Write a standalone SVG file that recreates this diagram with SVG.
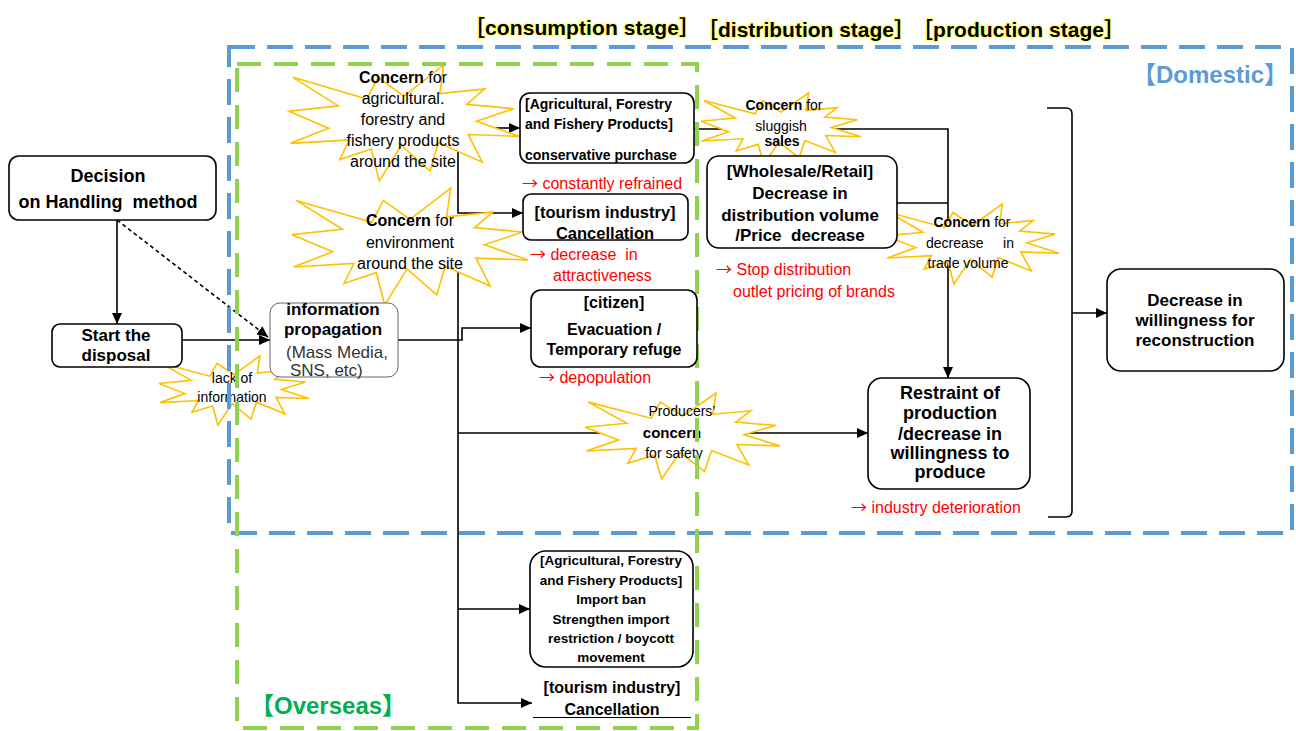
<svg xmlns="http://www.w3.org/2000/svg" xmlns:xlink="http://www.w3.org/1999/xlink" width="1296" height="731" viewBox="0 0 1296 731">
<style>
text{font-family:"Liberation Sans","Noto Sans CJK JP",sans-serif;fill:#000}
.b{font-weight:bold}
.c{text-anchor:middle}
.red{fill:#F00;font-size:16px}
.ar{font-family:"Noto Sans CJK JP",sans-serif}
.box{fill:#fff;stroke:#000;stroke-width:1.6}
.ln{fill:none;stroke:#000;stroke-width:1.6}
.hdr{font-size:21px;font-weight:bold;stroke:#FFFF80;stroke-width:3;paint-order:stroke;stroke-linejoin:round}
.pre{white-space:pre}
</style>
<defs>
<marker id="arr" markerUnits="userSpaceOnUse" markerWidth="11" markerHeight="10" refX="11" refY="5" orient="auto">
<path d="M0,0 L11,5 L0,10 Z" fill="#000"/>
</marker>
<path id="burst" d="M10800,5800 L14522,0 L14155,5325 L18380,4457 L16702,7315 L21097,8137 L17607,10475 L21600,13290 L16837,12942 L18145,18095 L14020,14457 L13247,19737 L10532,14935 L8485,21600 L7715,15627 L4762,17617 L5667,13937 L135,14587 L3722,11775 L0,8615 L4627,7617 L370,2295 L7312,6320 L8352,2295 Z" fill="#fff" stroke="#FFC000" stroke-width="1.6" vector-effect="non-scaling-stroke" stroke-linejoin="miter"/>
</defs>
<rect width="1296" height="731" fill="#fff"/>

<g id="headers">
<text class="hdr" x="464" y="35" textLength="236">［consumption stage］</text>
<text class="hdr" x="697" y="37" textLength="218">［distribution stage］</text>
<text class="hdr" x="912" y="37" textLength="213">［production stage］</text>
</g>

<g id="connectors">
<path class="ln" d="M117,220 V324" marker-end="url(#arr)"/>
<path class="ln" d="M117,220 L268,337" stroke-dasharray="4,3" marker-end="url(#arr)"/>
<path class="ln" d="M182,340 H270" marker-end="url(#arr)"/>
<path class="ln" d="M495,128 H520" marker-end="url(#arr)"/>
<path class="ln" d="M458,147 V213 H523" marker-end="url(#arr)"/>
<path class="ln" d="M398,340 H462 V328 H531" marker-end="url(#arr)"/>
<path class="ln" d="M458,267 V703 H532" stroke-width="2" marker-end="url(#arr)"/>
<path class="ln" d="M458,433 H868" marker-end="url(#arr)"/>
<path class="ln" d="M458,609 H530" marker-end="url(#arr)"/>
<path class="ln" d="M694,129 H948 V378" stroke-width="2.2" marker-end="url(#arr)"/>
<path class="ln" d="M897,203 H948"/>
<path class="ln" d="M1047,108 H1066 Q1072,108 1072,114 V511 Q1072,517 1066,517 H1048"/>
<path class="ln" d="M1072,313 H1107" marker-end="url(#arr)"/>
</g>

<g id="burst-agri">
<use xlink:href="#burst" transform="translate(289,65) scale(0.010648,0.00537)"/>
<text x="403" y="83" class="c" font-size="16"><tspan class="b">Concern</tspan> for</text>
<text x="403" y="104" class="c" font-size="16">agricultural.</text>
<text x="403" y="125" class="c" font-size="16">forestry and</text>
<text x="403" y="146" class="c" font-size="16">fishery products</text>
<text x="403" y="167" class="c" font-size="16">around the site</text>
</g>
<g id="burst-env">
<use xlink:href="#burst" transform="translate(292,188) scale(0.010926,0.005417)"/>
<text x="410" y="226" class="c" font-size="16"><tspan class="b">Concern</tspan> for</text>
<text x="410" y="248" class="c" font-size="16">environment</text>
<text x="410" y="269" class="c" font-size="16">around the site</text>
</g>
<g id="burst-lack">
<use xlink:href="#burst" transform="translate(159,356) scale(0.006944,0.003194)"/>
<text x="232" y="383" class="c" font-size="14">lack of</text>
<text x="232" y="402" class="c" font-size="14">information</text>
</g>
<g id="burst-sales">
<use xlink:href="#burst" transform="translate(701,93) scale(0.007407,0.003287)"/>
<text x="784" y="110" class="c" font-size="14"><tspan class="b">Concern</tspan> for</text>
<text x="781" y="131" class="c" font-size="14">sluggish</text>
<text x="782" y="146" class="c b" font-size="14">sales</text>
</g>
<g id="burst-trade">
<use xlink:href="#burst" transform="translate(886,204) scale(0.008009,0.003704)"/>
<text x="972" y="227" class="c" font-size="14"><tspan class="b">Concern</tspan> for</text>
<text x="970" y="248" class="c pre" font-size="14">decrease     in</text>
<text x="968" y="268" class="c" font-size="14">trade volume</text>
</g>
<g id="burst-safety">
<use xlink:href="#burst" transform="translate(585,393) scale(0.009028,0.003981)"/>
<text x="682" y="416" class="c" font-size="14">Producers’</text>
<text x="672" y="438" class="c b" font-size="15">concern</text>
<text x="674" y="458" class="c" font-size="14">for safety</text>
</g>

<g id="domestic">
<rect x="229" y="47" width="1063" height="486" fill="none" stroke="#5B9BD5" stroke-width="4" stroke-dasharray="26,12"/>
<text x="1288" y="83" text-anchor="end" class="b" font-size="24" style="fill:#5B9BD5">【Domestic】</text>
</g>
<g id="overseas">
<rect x="237" y="64" width="460" height="664" fill="none" stroke="#92D050" stroke-width="4" stroke-dasharray="24,13"/>
<text x="250" y="714" class="b" font-size="24" style="fill:#00B050">【Overseas】</text>
</g>

<g id="decision">
<rect class="box" x="9" y="156" width="207" height="64" rx="10"/>
<text x="108" y="182" class="c b" font-size="18">Decision</text>
<text x="108" y="208" class="c b pre" font-size="18">on Handling  method</text>
</g>
<g id="start">
<rect class="box" x="52" y="324" width="130" height="43" rx="8"/>
<text x="116" y="341" class="c b" font-size="17">Start the</text>
<text x="116" y="361" class="c b" font-size="17">disposal</text>
</g>
<g id="info">
<rect x="270" y="303" width="128" height="74" rx="10" fill="#fff" stroke="#666" stroke-width="1"/>
<text x="333" y="315" class="c b" font-size="17">information</text>
<text x="333" y="335" class="c b" font-size="17">propagation</text>
<text x="286" y="358" font-size="17" style="fill:#333">(Mass Media,</text>
<text x="290" y="376" font-size="17" style="fill:#333">SNS, etc)</text>
</g>
<g id="agri-purchase">
<rect class="box" x="520" y="93" width="174" height="70" rx="10"/>
<text x="525" y="109" class="b" font-size="14">[Agricultural, Forestry</text>
<text x="525" y="129" class="b" font-size="14">and Fishery Products]</text>
<text x="525" y="160" class="b" font-size="14">conservative purchase</text>
<text x="522" y="189" class="red"><tspan class="ar">→</tspan> constantly refrained</text>
</g>
<g id="tourism-domestic">
<rect class="box" x="523" y="194" width="165" height="46" rx="8"/>
<text x="605" y="218" class="c b" font-size="16.5">[tourism industry]</text>
<text x="605" y="239" class="c b" font-size="16.5">Cancellation</text>
<text x="530" y="260" class="red pre"><tspan class="ar">→</tspan> decrease  in</text>
<text x="553" y="281" class="red">attractiveness</text>
</g>
<g id="citizen">
<rect class="box" x="531" y="290" width="166" height="77" rx="10"/>
<text x="614" y="308" class="c b" font-size="16">[citizen]</text>
<text x="614" y="335" class="c b" font-size="16">Evacuation /</text>
<text x="614" y="355" class="c b" font-size="16">Temporary refuge</text>
<text x="539" y="383" class="red"><tspan class="ar">→</tspan> depopulation</text>
</g>
<g id="wholesale">
<rect class="box" x="707" y="156" width="190" height="92" rx="12"/>
<text x="800" y="177" class="c b" font-size="17">[Wholesale/Retail]</text>
<text x="800" y="199" class="c b" font-size="17">Decrease in</text>
<text x="800" y="221" class="c b" font-size="17">distribution volume</text>
<text x="800" y="241" class="c b pre" font-size="17">/Price  decrease</text>
<text x="716" y="275" class="red"><tspan class="ar">→</tspan> Stop distribution</text>
<text x="733" y="297" class="red">outlet pricing of brands</text>
</g>
<g id="restraint">
<rect class="box" x="868" y="378" width="162" height="111" rx="14"/>
<text x="950" y="399" class="c b" font-size="18">Restraint of</text>
<text x="950" y="419" class="c b" font-size="18">production</text>
<text x="950" y="440" class="c b" font-size="18">/decrease in</text>
<text x="950" y="459" class="c b" font-size="18">willingness to</text>
<text x="950" y="478" class="c b" font-size="18">produce</text>
<text x="851" y="513" class="red"><tspan class="ar">→</tspan> industry deterioration</text>
</g>
<g id="reconstruction">
<rect class="box" x="1107" y="269" width="177" height="102" rx="14"/>
<text x="1195" y="306" class="c b" font-size="17">Decrease in</text>
<text x="1195" y="326" class="c b" font-size="17">willingness for</text>
<text x="1195" y="346" class="c b" font-size="17">reconstruction</text>
</g>
<g id="agri-import">
<rect class="box" x="530" y="551" width="163" height="116" rx="16"/>
<text x="611" y="565" class="c b" font-size="13.5">[Agricultural, Forestry</text>
<text x="611" y="585" class="c b" font-size="13.5">and Fishery Products]</text>
<text x="611" y="604" class="c b" font-size="13.5">Import ban</text>
<text x="611" y="624" class="c b" font-size="13.5">Strengthen import</text>
<text x="611" y="643" class="c b" font-size="13.5">restriction / boycott</text>
<text x="611" y="662" class="c b" font-size="13.5">movement</text>
</g>
<g id="tourism-overseas">
<text x="612" y="693" class="c b" font-size="16">[tourism industry]</text>
<text x="612" y="715" class="c b" font-size="16">Cancellation</text>
<line x1="533" y1="717.5" x2="691" y2="717.5" stroke="#000" stroke-width="1.2"/>
</g>
</svg>
